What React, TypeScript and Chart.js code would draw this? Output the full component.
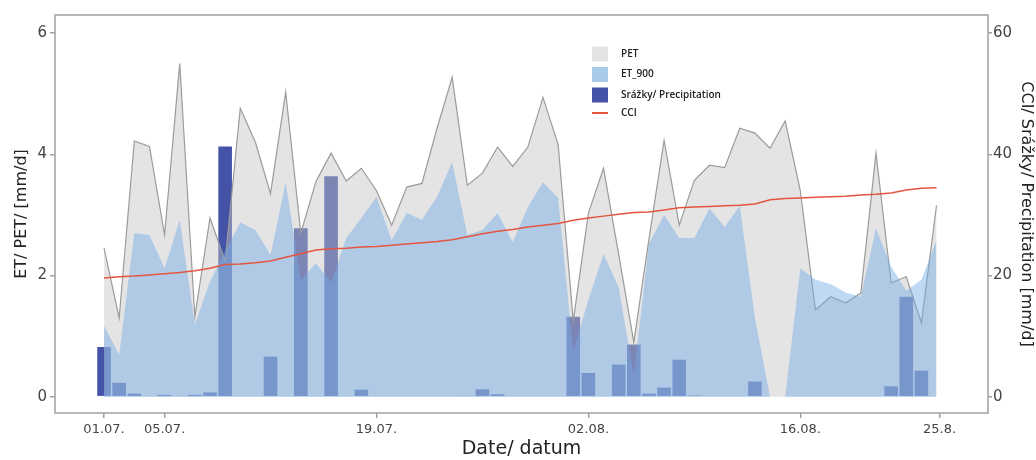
import React, { useEffect, useRef } from 'react';
import { Chart, registerables } from 'chart.js';

Chart.register(...registerables);

// Daily values 01.07. – 25.08. (index 0 = 01.07.)
const PET = [2.45, 1.3, 4.22, 4.13, 2.67, 5.5, 1.32, 2.95, 2.24, 4.76, 4.2, 3.35, 5.03, 2.7, 3.55, 4.02, 3.56, 3.77, 3.4, 2.83, 3.46, 3.52, 4.43, 5.27, 3.49, 3.69, 4.12, 3.8, 4.12, 4.94, 4.16, 1.25, 3.03, 3.77, 2.35, 0.9, 2.6, 4.23, 2.83, 3.57, 3.82, 3.78, 4.43, 4.35, 4.1, 4.55, 3.4, 1.43, 1.65, 1.55, 1.71, 4.02, 1.88, 1.98, 1.22, 3.16];
const ET_900 = [1.17, 0.69, 2.7, 2.67, 2.12, 2.92, 1.19, 1.9, 2.4, 2.88, 2.75, 2.34, 3.54, 1.93, 2.2, 1.88, 2.62, 2.95, 3.3, 2.58, 3.03, 2.92, 3.3, 3.87, 2.67, 2.75, 3.03, 2.55, 3.13, 3.54, 3.28, 0.75, 1.6, 2.36, 1.8, 0.35, 2.53, 3.0, 2.62, 2.62, 3.11, 2.8, 3.15, 1.3, 0, 0, 2.12, 1.93, 1.86, 1.72, 1.65, 2.78, 2.15, 1.75, 1.93, 2.58];
const PRECIP = [8.2, 2.3, 0.5, 0, 0.3, 0.15, 0.3, 0.7, 41.3, 0, 0, 6.6, 0, 27.8, 0, 36.4, 0, 1.15, 0, 0, 0, 0, 0, 0, 0.15, 1.2, 0.4, 0, 0, 0, 0, 13.2, 3.9, 0, 5.3, 8.6, 0.5, 1.5, 6.1, 0.2, 0, 0, 0, 2.5, 0, 0, 0, 0, 0, 0, 0, 0, 1.7, 16.5, 4.3, 0];
const CCI = [19.6, 19.8, 19.9, 20.1, 20.3, 20.5, 20.8, 21.2, 21.8, 21.9, 22.1, 22.4, 23.0, 23.6, 24.2, 24.4, 24.5, 24.7, 24.8, 25.0, 25.2, 25.4, 25.6, 25.9, 26.4, 26.9, 27.3, 27.6, 28.0, 28.3, 28.6, 29.1, 29.5, 29.8, 30.1, 30.4, 30.5, 30.8, 31.2, 31.3, 31.4, 31.5, 31.6, 31.8, 32.5, 32.7, 32.8, 32.9, 33.0, 33.1, 33.3, 33.4, 33.6, 34.1, 34.4, 34.5];

const X_TICK_POS = [0, 4, 18, 32, 46, 55.2];
const X_TICK_LABELS = ['01.07.', '05.07.', '19.07.', '02.08.', '16.08.', '25.8.'];
const Y_LEFT_TICKS = [0, 2, 4, 6];
const Y_RIGHT_TICKS = [0, 20, 40, 60];

const LEGEND_LABELS = ['PET', 'ET_900', 'Srážky/ Precipitation', 'CCI'];

const toXY = (arr: number[]) => arr.map((v, i) => ({ x: i, y: v }));

const COLORS = {
  petLine: '#9b9b9b',
  petFill: 'rgba(195,195,195,0.45)',
  etFill: 'rgba(112,170,232,0.45)',
  bar: '#4452a8',
  cci: '#e4553f',
  frame: '#a0a0a0',
  tick: '#444444',
  title: '#222222',
};

export default function App() {
  const ref = useRef<HTMLCanvasElement>(null);

  useEffect(() => {
    document.body.style.margin = '0';
    if (!ref.current) return;

    const framePlugin = {
      id: 'frame',
      afterDatasetsDraw(chart: any) {
        const { ctx, chartArea: a } = chart;
        ctx.save();
        ctx.strokeStyle = COLORS.frame;
        ctx.lineWidth = 1.5;
        ctx.strokeRect(a.left, a.top, a.right - a.left, a.bottom - a.top);
        ctx.restore();
      },
    };

    const legendPlugin = {
      id: 'innerLegend',
      afterDraw(chart: any) {
        const { ctx } = chart;
        const x0 = 592;
        const rows = [54, 74.5, 95, 113];
        const swatches = ['rgb(228,228,228)', 'rgb(170,202,236)', COLORS.bar, null];
        ctx.save();
        ctx.font = '600 10px "Open Sans"';
        ctx.textBaseline = 'middle';
        ctx.textAlign = 'left';
        rows.forEach((cy, i) => {
          const sw = swatches[i];
          if (sw) {
            ctx.fillStyle = sw;
            ctx.fillRect(x0, cy - 7.5, 16, 15);
          } else {
            ctx.strokeStyle = COLORS.cci;
            ctx.lineWidth = 2;
            ctx.beginPath();
            ctx.moveTo(x0, cy);
            ctx.lineTo(x0 + 16, cy);
            ctx.stroke();
          }
          ctx.fillStyle = '#222';
          ctx.fillText(LEGEND_LABELS[i], x0 + 29, cy);
        });
        ctx.restore();
      },
    };

    const tickGrid = {
      display: true,
      drawOnChartArea: false,
      drawTicks: true,
      tickLength: 5,
      color: COLORS.frame,
      lineWidth: 1.5,
      offset: false,
    };

    const chart = new Chart(ref.current, {
      type: 'bar',
      data: {
        datasets: [
          {
            type: 'line',
            label: LEGEND_LABELS[0],
            data: toXY(PET),
            yAxisID: 'y',
            borderColor: COLORS.petLine,
            borderWidth: 1.2,
            backgroundColor: COLORS.petFill,
            fill: 'origin',
            pointRadius: 0,
            tension: 0,
            order: 2,
          },
          {
            type: 'line',
            label: LEGEND_LABELS[1],
            data: toXY(ET_900),
            yAxisID: 'y',
            borderColor: 'rgba(0,0,0,0)',
            borderWidth: 0,
            backgroundColor: COLORS.etFill,
            fill: 'origin',
            pointRadius: 0,
            tension: 0,
            order: 1,
          },
          {
            type: 'bar',
            label: LEGEND_LABELS[2],
            data: toXY(PRECIP),
            yAxisID: 'y2',
            backgroundColor: COLORS.bar,
            barPercentage: 1,
            categoryPercentage: 0.9,
            order: 3,
          },
          {
            type: 'line',
            label: LEGEND_LABELS[3],
            data: toXY(CCI),
            yAxisID: 'y2',
            borderColor: COLORS.cci,
            borderWidth: 1.5,
            pointRadius: 0,
            fill: false,
            tension: 0,
            order: 0,
          },
        ] as any,
      },
      options: {
        responsive: false,
        animation: false,
        devicePixelRatio: 1,
        layout: { padding: { top: 15, left: 0, right: 0, bottom: 0 } },
        plugins: {
          legend: { display: false },
          tooltip: { enabled: false },
        },
        scales: {
          x: {
            type: 'linear',
            offset: false,
            min: -3.24,
            max: 58.4,
            grid: tickGrid,
            border: { display: false },
            afterBuildTicks: (s: any) => {
              s.ticks = X_TICK_POS.map((v) => ({ value: v }));
            },
            afterFit: (s: any) => {
              s.height = 47;
            },
            ticks: {
              autoSkip: false,
              maxRotation: 0,
              padding: 4,
              color: COLORS.tick,
              font: { family: 'DejaVu Sans', size: 13 },
              callback: (_v: any, i: number) => X_TICK_LABELS[i],
            },
            title: {
              display: true,
              text: 'Date/ datum',
              color: COLORS.title,
              font: { family: 'DejaVu Sans', size: 19, lineHeight: 1 },
              padding: { top: 0, bottom: 1 },
            },
          },
          y: {
            type: 'linear',
            position: 'left',
            min: -0.27,
            max: 6.3,
            grid: tickGrid,
            border: { display: false },
            afterBuildTicks: (s: any) => {
              s.ticks = Y_LEFT_TICKS.map((v) => ({ value: v }));
            },
            afterFit: (s: any) => {
              s.width = 55;
            },
            ticks: {
              padding: 3,
              color: COLORS.tick,
              font: { family: 'DejaVu Sans', size: 15 },
            },
            title: {
              display: true,
              text: 'ET/ PET/ [mm/d]',
              color: COLORS.title,
              font: { family: 'DejaVu Sans', size: 16, lineHeight: 1 },
              padding: { top: 14, bottom: 0 },
            },
          },
          y2: {
            type: 'linear',
            position: 'right',
            min: -2.7,
            max: 63,
            grid: { ...tickGrid, tickLength: 4 },
            border: { display: false },
            afterBuildTicks: (s: any) => {
              s.ticks = Y_RIGHT_TICKS.map((v) => ({ value: v }));
            },
            afterFit: (s: any) => {
              s.width = 48;
            },
            ticks: {
              padding: 1,
              color: COLORS.tick,
              font: { family: 'DejaVu Sans', size: 15 },
            },
            title: {
              display: true,
              text: 'CCI/ Srážky/ Precipitation [mm/d]',
              color: COLORS.title,
              font: { family: 'DejaVu Sans', size: 16, lineHeight: 1 },
              padding: { top: 2, bottom: 0 },
            },
          },
        },
      } as any,
      plugins: [framePlugin, legendPlugin],
    });

    return () => chart.destroy();
  }, []);

  return (
    <div style={{ width: 1036, height: 460, position: 'relative' }}>
      <canvas ref={ref} width={1036} height={460} style={{ display: 'block' }} />
    </div>
  );
}
